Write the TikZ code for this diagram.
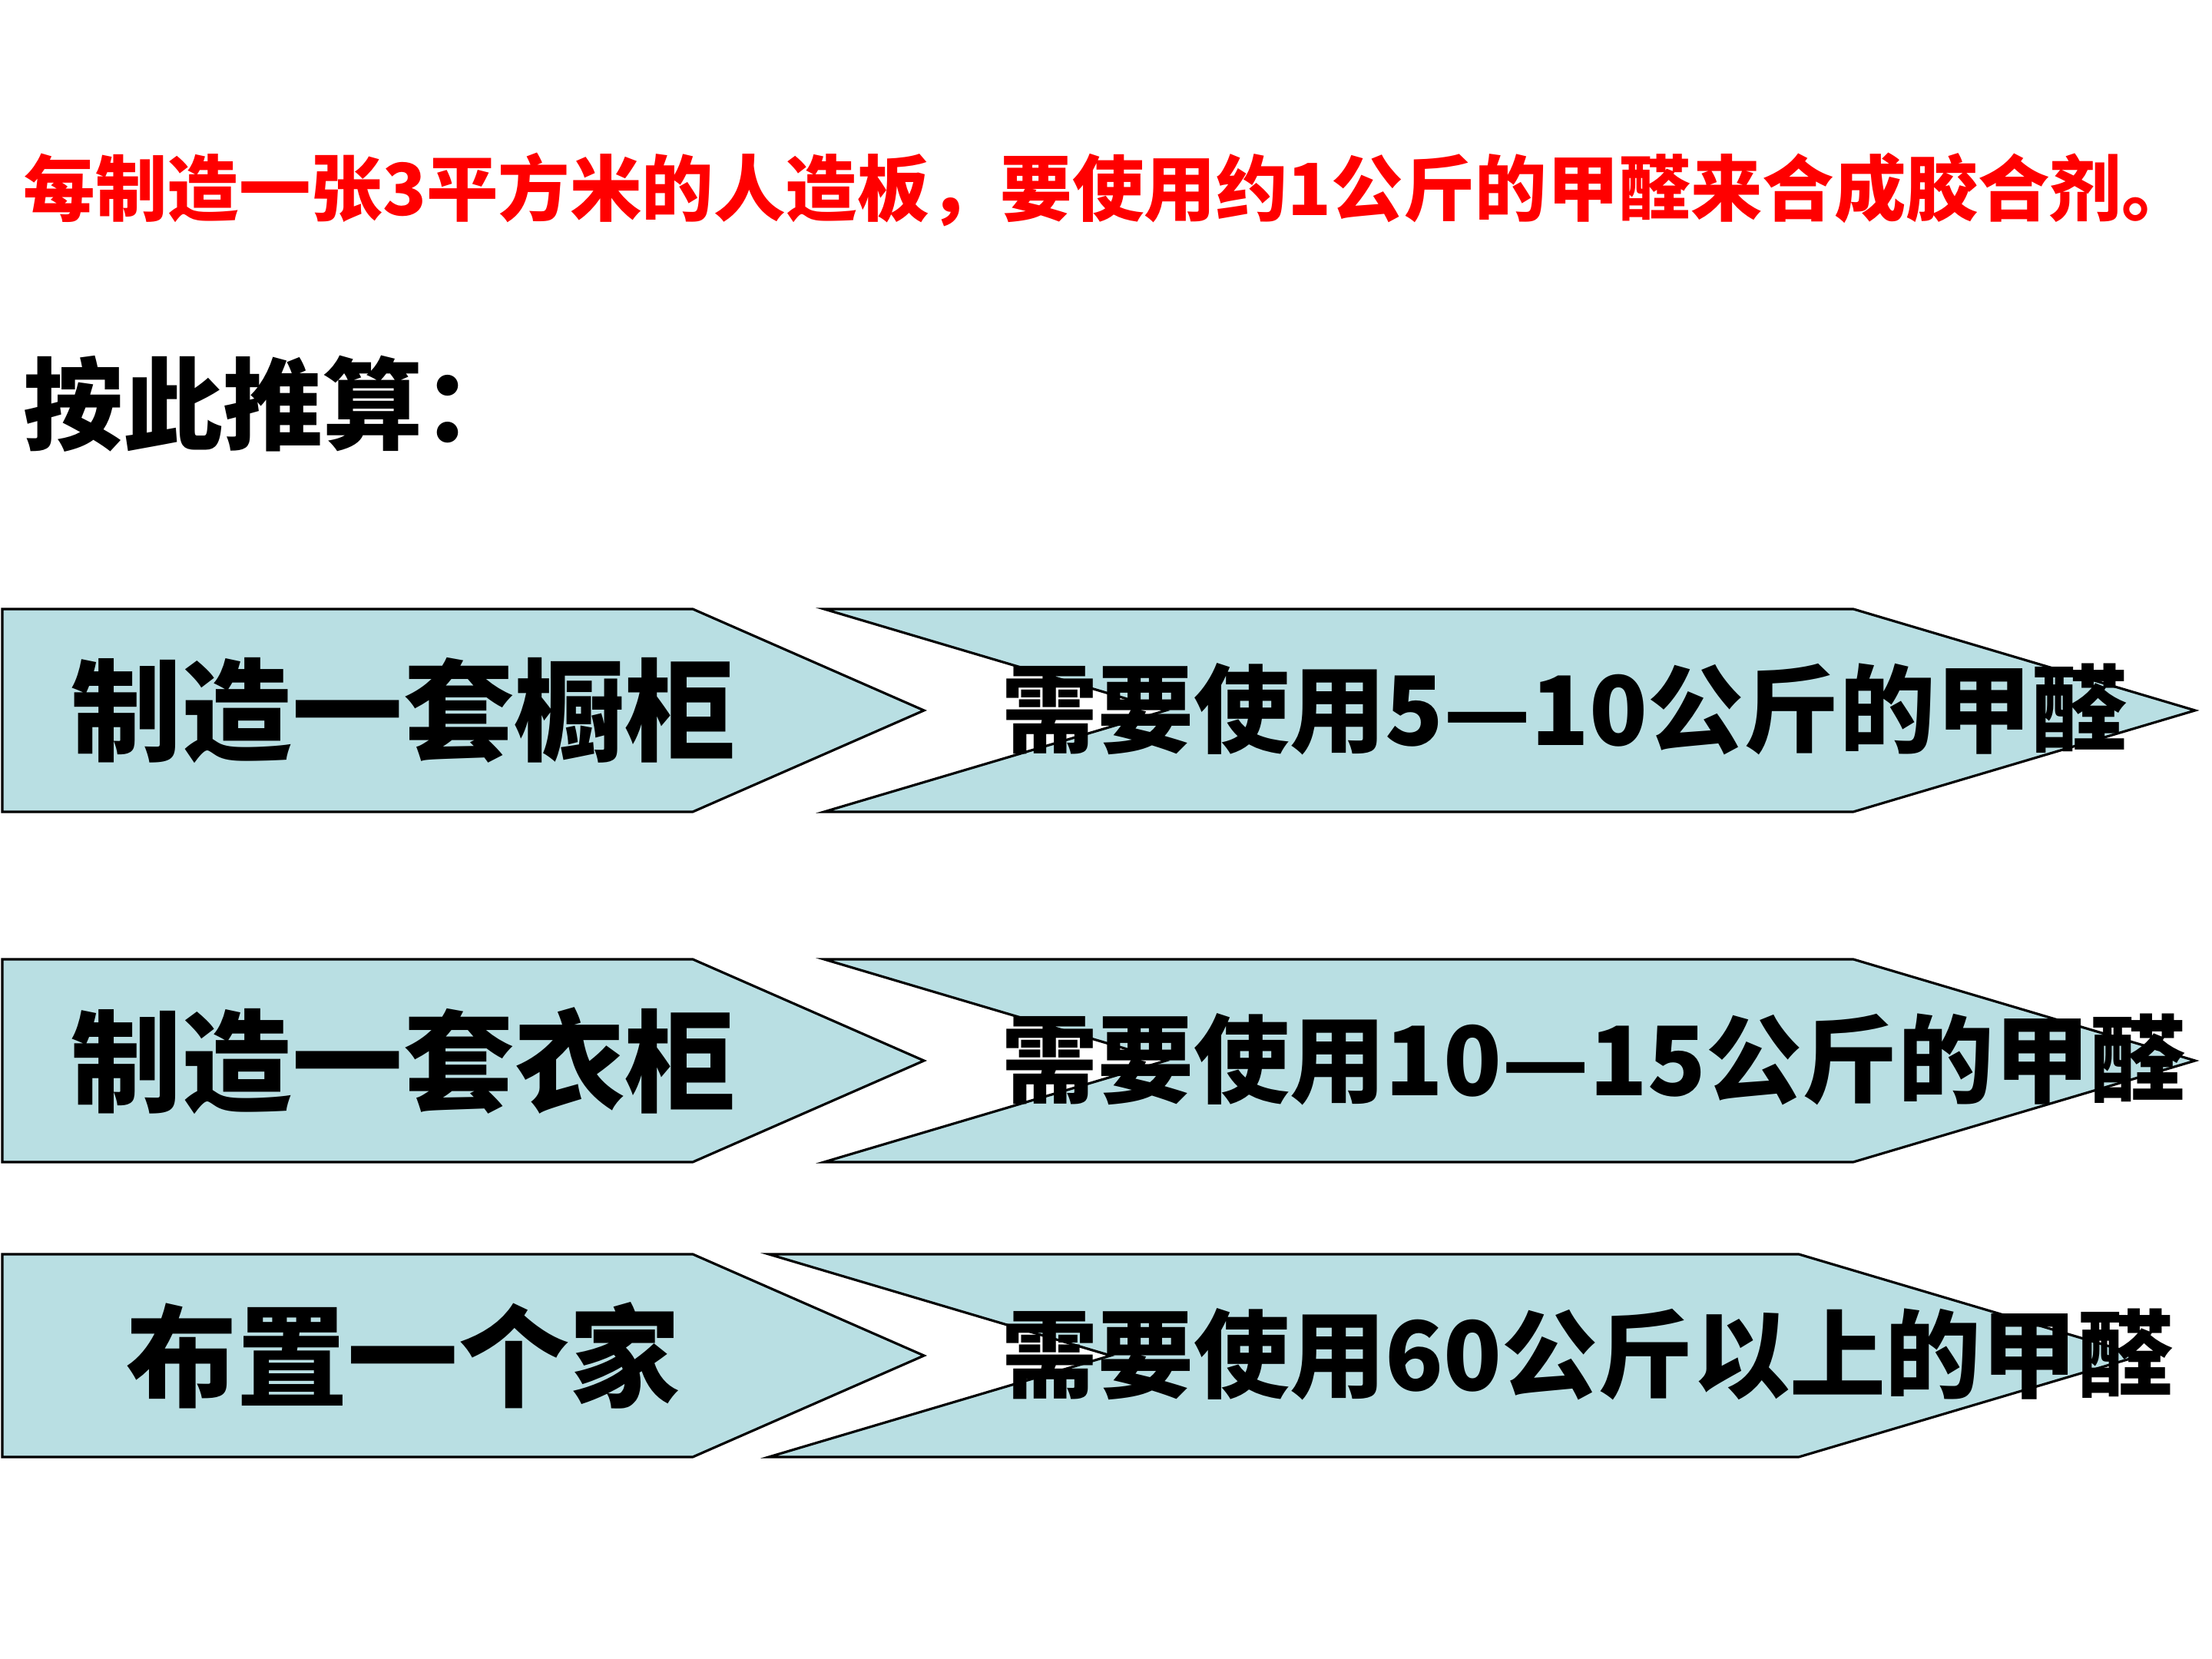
\documentclass[tikz,border=0pt]{standalone}
\usepackage{fontspec}
\setmainfont{Noto Sans CJK SC}
\usepackage{tikz}
\usetikzlibrary{positioning}
\definecolor{boxcyan}{RGB}{185,223,227}
\definecolor{notered}{RGB}{255,0,0}

\begin{document}
\begin{tikzpicture}[
  panel/.style={draw, fill=boxcyan, line width=0.9pt},
  maketxt/.style={inner sep=0pt, font=\fontsize{41}{44}\selectfont\bfseries},
  needtxt/.style={anchor=west, inner sep=0pt, font=\fontsize{35.5}{38}\selectfont\bfseries},
]
\useasboundingbox (0,0) rectangle (28.8,21.6);

% ============ Heading lines ============
\node[anchor=west, inner sep=0pt, color=notered, font=\fontsize{26.6}{30}\selectfont\bfseries] (note) at (0.3,19.13)
  {每制造一张3平方米的人造板，要使用约1公斤的甲醛来合成胶合剂。};
\node[anchor=west, inner sep=0pt, font=\fontsize{37}{40}\selectfont\bfseries] (calc) at (0.3,16.34) {按此推算：};

% ============ Row 1: cupboard ============
\draw[panel] (0.03,13.67) -- (9.02,13.67) -- (12.03,12.35) -- (9.02,11.03) -- (0.03,11.03) -- cycle;
\draw[panel] (10.73,13.67) -- (24.13,13.67) -- (28.58,12.35) -- (24.13,11.03) -- (10.73,11.03) -- (15.18,12.35) -- cycle;
\node[maketxt] (make1) at (5.25,12.35) {制造一套橱柜};
\node[needtxt] (need1) at (13.04,12.37) {需要使用5—10公斤的甲醛};

% ============ Row 2: wardrobe ============
\draw[panel] (0.03,9.11) -- (9.02,9.11) -- (12.03,7.79) -- (9.02,6.47) -- (0.03,6.47) -- cycle;
\draw[panel] (10.73,9.11) -- (24.13,9.11) -- (28.58,7.79) -- (24.13,6.47) -- (10.73,6.47) -- (15.18,7.79) -- cycle;
\node[maketxt] (make2) at (5.25,7.79) {制造一套衣柜};
\node[needtxt] (need2) at (13.04,7.81) {需要使用10—15公斤的甲醛};

% ============ Row 3: whole home ============
\draw[panel] (0.03,5.27) -- (9.02,5.27) -- (12.03,3.95) -- (9.02,2.63) -- (0.03,2.63) -- cycle;
\draw[panel] (10.01,5.27) -- (23.42,5.27) -- (27.87,3.95) -- (23.42,2.63) -- (10.01,2.63) -- (14.46,3.95) -- cycle;
\node[maketxt] (make3) at (5.25,3.95) {布置一个家};
\node[needtxt] (need3) at (13.04,3.97) {需要使用60公斤以上的甲醛};

\end{tikzpicture}
\end{document}
